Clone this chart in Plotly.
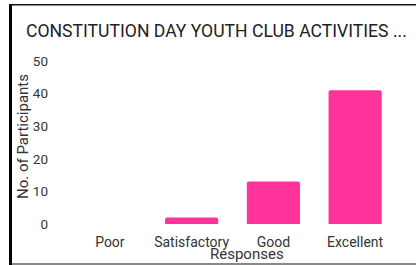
import plotly.graph_objects as go

categories = ["Poor", "Satisfactory", "Good", "Excellent"]
values = [0, 2, 13, 41]
y_ticks = [0, 10, 20, 30, 40, 50]

W, H = 416, 265
L, R, T, B = 69, 20, 61, 41
pw, ph = W - L - R, H - T - B

def px(x):
    return (x - L) / pw

def py(y):
    return (H - B - y) / ph

font = "Roboto, Arial, sans-serif"

fig = go.Figure(go.Bar(
    x=categories, y=values,
    marker=dict(color="#FF3399", line=dict(width=0)),
    width=0.65,
    hoverinfo="skip",
))

fig.update_layout(
    width=W, height=H,
    margin=dict(l=L, r=R, t=T, b=B, pad=0),
    paper_bgcolor="white", plot_bgcolor="white",
    showlegend=False,
    barcornerradius=2,
    font=dict(family=font, size=13, color="#333333"),
    xaxis=dict(showgrid=False, showline=False, zeroline=False, ticks="",
               tickfont=dict(size=14, color="#333333"), ticklabelstandoff=8,
               range=[-0.5, 3.5]),
    yaxis=dict(range=[0, 50], tickvals=y_ticks, showgrid=False, showline=False,
               zeroline=False, ticks="", tickfont=dict(size=13.5, color="#333333"),
               ticklabelstandoff=20),
    annotations=[
        dict(text="CONSTITUTION DAY YOUTH CLUB ACTIVITIES ...", xref="paper", yref="paper",
             x=px(24), y=py(31), xanchor="left", yanchor="middle", showarrow=False,
             font=dict(size=17.6, color="#222222", family=font)),
        dict(text="No. of Participants", xref="paper", yref="paper",
             x=px(23), y=py(137), xanchor="center", yanchor="middle", showarrow=False,
             textangle=-90, font=dict(size=15, color="#333333", family=font)),
        dict(text="Responses", xref="paper", yref="paper",
             x=px(247), y=py(254), xanchor="center", yanchor="middle", showarrow=False,
             font=dict(size=15, color="#333333", family=font)),
    ],
    shapes=[
        dict(type="line", xref="paper", yref="paper", x0=px(10.5), x1=px(10.5),
             y0=py(4), y1=py(266), line=dict(color="black", width=3)),
        dict(type="line", xref="paper", yref="paper", x0=px(9), x1=px(417),
             y0=py(4.7), y1=py(4.7), line=dict(color="#111111", width=1.5)),
        dict(type="line", xref="paper", yref="paper", x0=px(12), x1=px(417),
             y0=py(264), y1=py(264), line=dict(color="#888888", width=2)),
    ],
)

fig.write_html("out.html", config={"displayModeBar": False},
               post_script="document.body.style.margin='0';document.body.style.overflow='hidden';")
